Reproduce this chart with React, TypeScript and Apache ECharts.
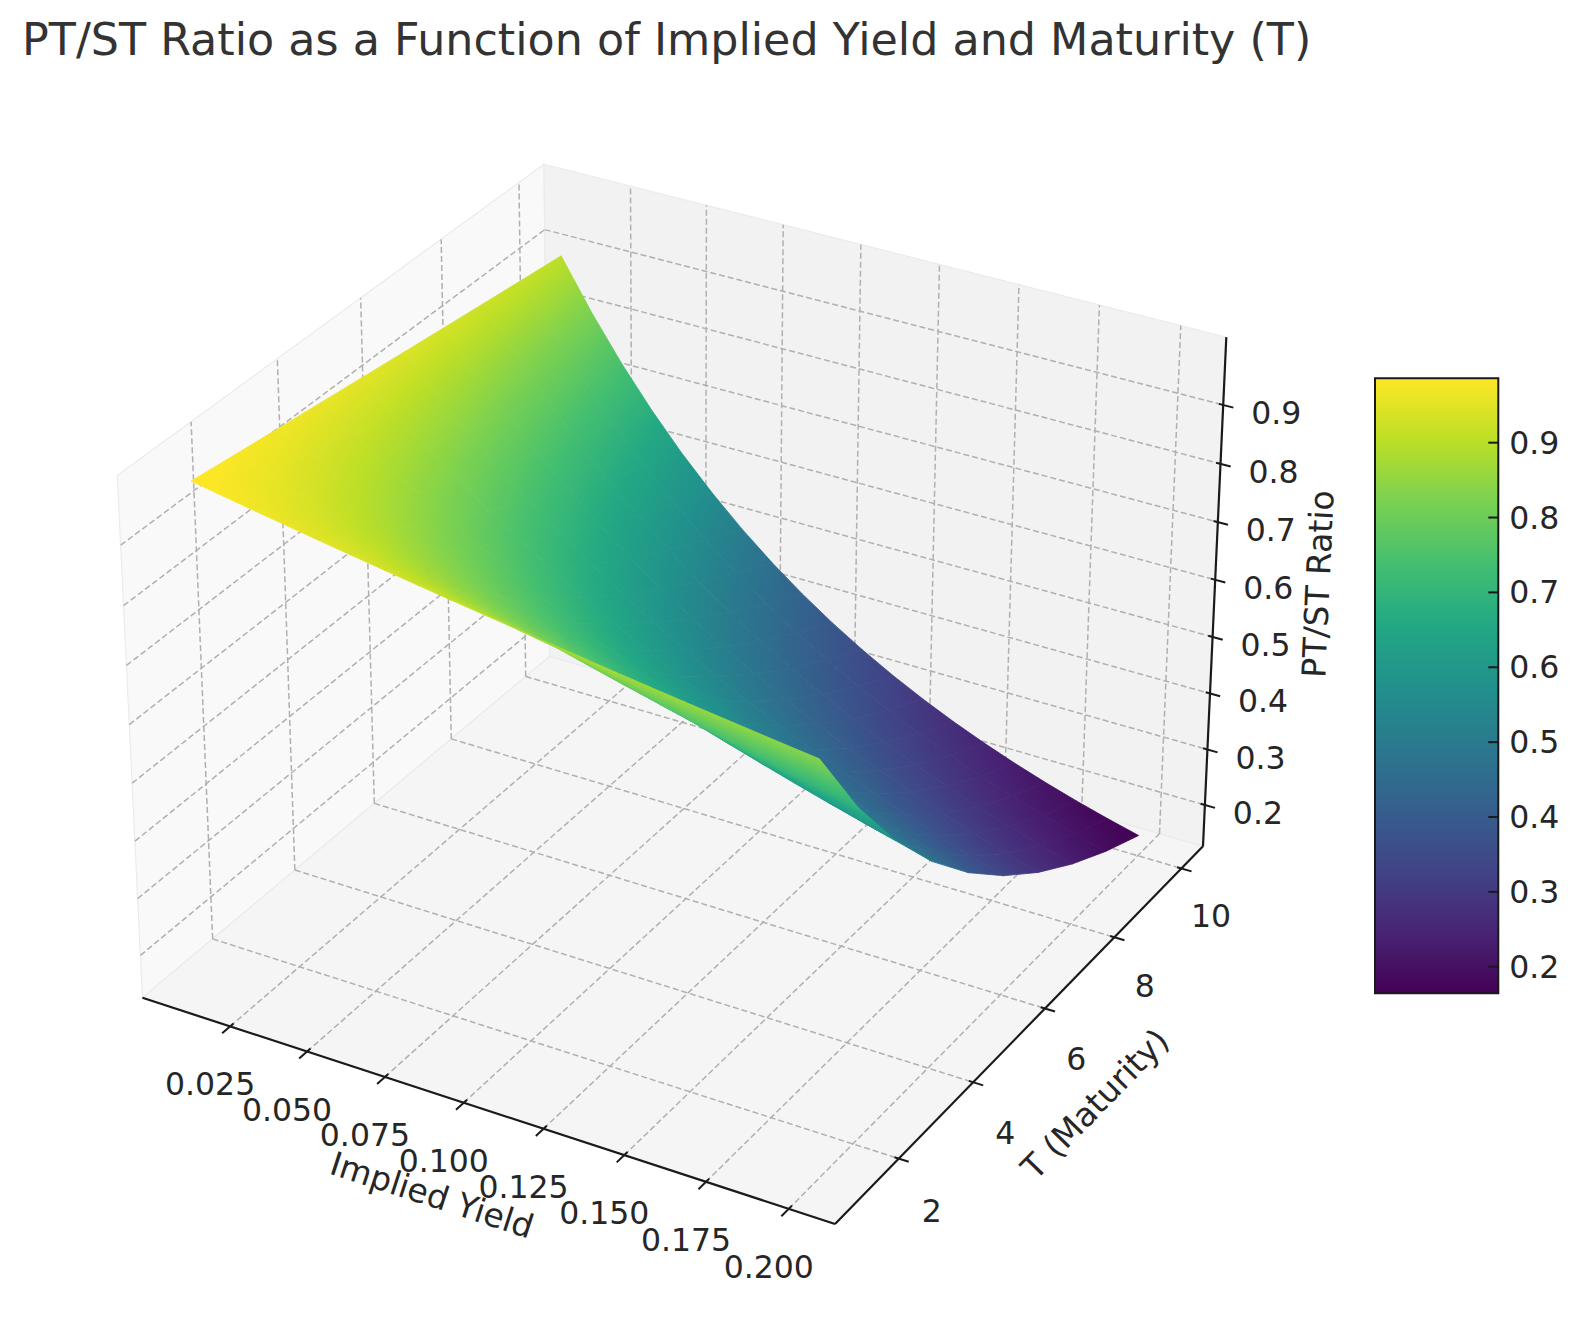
import React, { useEffect, useRef } from "react";
import * as echarts from "echarts";

// ---------------- data ----------------
const YIELDS = [0.01, 0.02, 0.03, 0.04, 0.05, 0.06, 0.07, 0.08, 0.09, 0.1, 0.11, 0.12, 0.13, 0.14, 0.15, 0.16, 0.17, 0.18, 0.19, 0.2];
const MATURITIES = [1, 2, 3, 4, 5, 6, 7, 8, 9, 10];

// PT/ST ratio for each maturity (row), across YIELDS (columns)
const RATIO_T1 = [0.9901, 0.9804, 0.9709, 0.9615, 0.9524, 0.9434, 0.9346, 0.9259, 0.9174, 0.9091, 0.9009, 0.8929, 0.885, 0.8772, 0.8696, 0.8621, 0.8547, 0.8475, 0.8403, 0.8333];
const RATIO_T2 = [0.9803, 0.9612, 0.9426, 0.9246, 0.907, 0.89, 0.8734, 0.8573, 0.8417, 0.8264, 0.8116, 0.7972, 0.7831, 0.7695, 0.7561, 0.7432, 0.7305, 0.7182, 0.7062, 0.6944];
const RATIO_T3 = [0.9706, 0.9423, 0.9151, 0.889, 0.8638, 0.8396, 0.8163, 0.7938, 0.7722, 0.7513, 0.7312, 0.7118, 0.6931, 0.675, 0.6575, 0.6407, 0.6244, 0.6086, 0.5934, 0.5787];
const RATIO_T4 = [0.961, 0.9238, 0.8885, 0.8548, 0.8227, 0.7921, 0.7629, 0.735, 0.7084, 0.683, 0.6587, 0.6355, 0.6133, 0.5921, 0.5718, 0.5523, 0.5337, 0.5158, 0.4987, 0.4823];
const RATIO_T5 = [0.9515, 0.9057, 0.8626, 0.8219, 0.7835, 0.7473, 0.713, 0.6806, 0.6499, 0.6209, 0.5935, 0.5674, 0.5428, 0.5194, 0.4972, 0.4761, 0.4561, 0.4371, 0.419, 0.4019];
const RATIO_T6 = [0.942, 0.888, 0.8375, 0.7903, 0.7462, 0.705, 0.6663, 0.6302, 0.5963, 0.5645, 0.5346, 0.5066, 0.4803, 0.4556, 0.4323, 0.4104, 0.3898, 0.3704, 0.3521, 0.3349];
const RATIO_T7 = [0.9327, 0.8706, 0.8131, 0.7599, 0.7107, 0.6651, 0.6227, 0.5835, 0.547, 0.5132, 0.4817, 0.4523, 0.4251, 0.3996, 0.3759, 0.3538, 0.3332, 0.3139, 0.2959, 0.2791];
const RATIO_T8 = [0.9235, 0.8535, 0.7894, 0.7307, 0.6768, 0.6274, 0.582, 0.5403, 0.5019, 0.4665, 0.4339, 0.4039, 0.3762, 0.3506, 0.3269, 0.305, 0.2848, 0.266, 0.2487, 0.2326];
const RATIO_T9 = [0.9143, 0.8368, 0.7664, 0.7026, 0.6446, 0.5919, 0.5439, 0.5002, 0.4604, 0.4241, 0.3909, 0.3606, 0.3329, 0.3075, 0.2843, 0.263, 0.2434, 0.2255, 0.209, 0.1938];
const RATIO_T10 = [0.9053, 0.8203, 0.7441, 0.6756, 0.6139, 0.5584, 0.5083, 0.4632, 0.4224, 0.3855, 0.3522, 0.322, 0.2946, 0.2697, 0.2472, 0.2267, 0.208, 0.1911, 0.1756, 0.1615];
const RATIO_ROWS = [RATIO_T1, RATIO_T2, RATIO_T3, RATIO_T4, RATIO_T5, RATIO_T6, RATIO_T7, RATIO_T8, RATIO_T9, RATIO_T10];

const YIELD_TICKS = [0.025, 0.05, 0.075, 0.1, 0.125, 0.15, 0.175, 0.2];
const YIELD_TICK_LABELS = ["0.025", "0.050", "0.075", "0.100", "0.125", "0.150", "0.175", "0.200"];
const MATURITY_TICKS = [2, 4, 6, 8, 10];
const RATIO_TICKS = [0.2, 0.3, 0.4, 0.5, 0.6, 0.7, 0.8, 0.9];
const COLOR_RANGE = [0.1645, 0.986];

const TITLE = "PT/ST Ratio as a Function of Implied Yield and Maturity (T)";
const X_NAME = "Implied Yield";
const T_NAME = "T (Maturity)";
const Z_NAME = "PT/ST Ratio";

const VIRIDIS = ["#440154", "#482475", "#414487", "#355f8d", "#2a788e", "#21918c", "#22a884", "#44bf70", "#7ad151", "#bddf26", "#fde725"];

// ---------------- 3D view (matplotlib-like) ----------------
const X_LIM = [0.0005, 0.2095];
const T_LIM = [0.55, 10.45];
const Z_LIM = [0.1426, 0.9962];
const ELEV = 30;
const AZIM = -60;
const DIST = 10;
const CX = 682.5;
const CY = 668.6;
const SC = 6665;
const FONT = "DejaVu Sans";
const INK = "#262626";

const K = 1.8294640721620434 / Math.sqrt(41);
const PB = [4 * K, 4 * K, 3 * K];
const er = (ELEV * Math.PI) / 180;
const ar = (AZIM * Math.PI) / 180;
const W = [Math.cos(er) * Math.cos(ar), Math.cos(er) * Math.sin(ar), Math.sin(er)];
const uLen = Math.hypot(W[1], W[0]);
const U = [-W[1] / uLen, W[0] / uLen, 0];
const V = [W[1] * U[2] - W[2] * U[1], W[2] * U[0] - W[0] * U[2], W[0] * U[1] - W[1] * U[0]];

const pad = (l: number[]) => [l[0] - (l[1] - l[0]) / 48, l[1] + (l[1] - l[0]) / 48];
const XB = pad(X_LIM);
const TB = pad(T_LIM);
const ZB = pad(Z_LIM);

function project(x: number, t: number, z: number) {
  const q = [
    ((x - X_LIM[0]) / (X_LIM[1] - X_LIM[0])) * PB[0] - PB[0] / 2,
    ((t - T_LIM[0]) / (T_LIM[1] - T_LIM[0])) * PB[1] - PB[1] / 2,
    ((z - Z_LIM[0]) / (Z_LIM[1] - Z_LIM[0])) * PB[2] - PB[2] / 2,
  ];
  const a = U[0] * q[0] + U[1] * q[1] + U[2] * q[2];
  const b = V[0] * q[0] + V[1] * q[1] + V[2] * q[2];
  const c = W[0] * q[0] + W[1] * q[1] + W[2] * q[2];
  const den = DIST - c;
  return [CX + (SC * a) / den, CY - (SC * b) / den, den];
}

// ---------------- colours ----------------
const VIR_RGB = VIRIDIS.map((h) => [parseInt(h.slice(1, 3), 16), parseInt(h.slice(3, 5), 16), parseInt(h.slice(5, 7), 16)]);
function viridis(t: number) {
  const tt = Math.max(0, Math.min(1, t));
  const f = tt * (VIR_RGB.length - 1);
  const i = Math.min(VIR_RGB.length - 2, Math.floor(f));
  const r = f - i;
  const a = VIR_RGB[i];
  const b = VIR_RGB[i + 1];
  const c = [0, 1, 2].map((k) => Math.round(a[k] + (b[k] - a[k]) * r));
  return `rgb(${c[0]},${c[1]},${c[2]})`;
}
const colorOf = (z: number) => viridis((z - COLOR_RANGE[0]) / (COLOR_RANGE[1] - COLOR_RANGE[0]));

// ---------------- surface quads ----------------
function buildQuads() {
  const quads: any[] = [];
  for (let i = 0; i < MATURITIES.length - 1; i++) {
    for (let j = 0; j < YIELDS.length - 1; j++) {
      const corners = [
        [j, i],
        [j + 1, i],
        [j + 1, i + 1],
        [j, i + 1],
      ];
      const vals = corners.map(([jj, ii]) => RATIO_ROWS[ii][jj]);
      const proj = corners.map(([jj, ii], k) => project(YIELDS[jj], MATURITIES[ii], vals[k]));
      const pts = proj.map((p) => [p[0], p[1]]);
      const depth = proj.reduce((s, p) => s + p[2], 0) / 4;
      const mX = pts.reduce((s, p) => s + p[0], 0) / 4;
      const mY = pts.reduce((s, p) => s + p[1], 0) / 4;
      const mc = vals.reduce((s, v) => s + v, 0) / 4;
      let sxx = 0, sxy = 0, syy = 0, sxc = 0, syc = 0;
      for (let k = 0; k < 4; k++) {
        const dx = pts[k][0] - mX, dy = pts[k][1] - mY, dc = vals[k] - mc;
        sxx += dx * dx; sxy += dx * dy; syy += dy * dy; sxc += dx * dc; syc += dy * dc;
      }
      const det = sxx * syy - sxy * sxy;
      const cmin = Math.min(...vals);
      const cmax = Math.max(...vals);
      let fill: any = colorOf(mc);
      if (Math.abs(det) > 1e-6 && cmax - cmin > 1e-6) {
        const gb = (sxc * syy - syc * sxy) / det;
        const gd = (syc * sxx - sxc * sxy) / det;
        const g2 = gb * gb + gd * gd;
        if (g2 > 1e-14) {
          const sx = mX + (gb * (cmin - mc)) / g2;
          const sy = mY + (gd * (cmin - mc)) / g2;
          const ex = mX + (gb * (cmax - mc)) / g2;
          const ey = mY + (gd * (cmax - mc)) / g2;
          const stops = [0, 0.25, 0.5, 0.75, 1].map((o) => ({ offset: o, color: colorOf(cmin + (cmax - cmin) * o) }));
          fill = { type: "linear", x: sx, y: sy, x2: ex, y2: ey, global: true, colorStops: stops };
        }
      }
      quads.push({ i, j, pts, depth, fill });
    }
  }
  quads.sort((a, b) => b.depth - a.depth);
  return quads;
}

// ---------------- frame, grid, ticks, labels ----------------
function buildFrame() {
  const els: any[] = [];
  const [x0, x1] = XB;
  const [t0, t1] = TB;
  const [z0, z1] = ZB;
  const P = (x: number, t: number, z: number) => {
    const p = project(x, t, z);
    return [p[0], p[1]];
  };
  const poly = (pts: number[][], fill: string) => ({
    type: "polygon", z: 0, silent: true, shape: { points: pts },
    style: { fill, stroke: "#ebebeb", lineWidth: 1.2 },
  });
  els.push(poly([P(x0, t0, z0), P(x0, t1, z0), P(x0, t1, z1), P(x0, t0, z1)], "#f9f9f9"));
  els.push(poly([P(x0, t1, z0), P(x1, t1, z0), P(x1, t1, z1), P(x0, t1, z1)], "#f2f2f2"));
  els.push(poly([P(x0, t0, z0), P(x1, t0, z0), P(x1, t1, z0), P(x0, t1, z0)], "#f5f5f5"));

  const seg = (a: number[], b: number[], style: any, z: number) => ({
    type: "line", z, silent: true, shape: { x1: a[0], y1: a[1], x2: b[0], y2: b[1] }, style,
  });
  const gridStyle = { stroke: "#b0b0b0", lineWidth: 1.5, lineDash: [6, 3] };
  YIELD_TICKS.forEach((x) => {
    els.push(seg(P(x, t0, z0), P(x, t1, z0), gridStyle, 1));
    els.push(seg(P(x, t1, z0), P(x, t1, z1), gridStyle, 1));
  });
  MATURITY_TICKS.forEach((t) => {
    els.push(seg(P(x0, t, z0), P(x1, t, z0), gridStyle, 1));
    els.push(seg(P(x0, t, z0), P(x0, t, z1), gridStyle, 1));
  });
  RATIO_TICKS.forEach((z) => {
    els.push(seg(P(x0, t0, z), P(x0, t1, z), gridStyle, 1));
    els.push(seg(P(x0, t1, z), P(x1, t1, z), gridStyle, 1));
  });

  const axisStyle = { stroke: "#1a1a1a", lineWidth: 2.2 };
  els.push(seg(P(x0, t0, z0), P(x1, t0, z0), axisStyle, 5));
  els.push(seg(P(x1, t0, z0), P(x1, t1, z0), axisStyle, 5));
  els.push(seg(P(x1, t1, z0), P(x1, t1, z1), axisStyle, 5));

  const tickStyle = { stroke: "#1a1a1a", lineWidth: 2 };
  const tick = (p: number[], q: number[]) => {
    const dx = q[0] - p[0], dy = q[1] - p[1];
    const L = Math.hypot(dx, dy);
    const ux = dx / L, uy = dy / L;
    return seg([p[0] - ux * 4.5, p[1] - uy * 4.5], [p[0] + ux * 10.5, p[1] + uy * 10.5], tickStyle, 5);
  };
  const txt = (x: number, y: number, text: string, size: number, rot = 0, color = INK, align = "center") => ({
    type: "text", z: 6, silent: true, x, y, rotation: rot,
    style: {
      text, fontSize: size, fontFamily: FONT, fill: color,
      align, verticalAlign: "middle", textAlign: align, textVerticalAlign: "middle",
    },
  });

  YIELD_TICKS.forEach((x, k) => {
    const p = P(x, t0, z0);
    els.push(tick(p, P(x, t0 - 0.5, z0)));
    els.push(txt(p[0] - 20, p[1] + 58, YIELD_TICK_LABELS[k], 31.5));
  });
  MATURITY_TICKS.forEach((t) => {
    const p = P(x1, t, z0);
    els.push(tick(p, P(x1 + 0.01, t, z0)));
    els.push(txt(p[0] + 33 - (t - 2) * 0.42, p[1] + 52 - (t - 2) * 0.5, String(t), 31.5));
  });
  RATIO_TICKS.forEach((z) => {
    const p = P(x1, t1, z);
    els.push(tick(p, P(x1 + 0.01, t1, z)));
    els.push(txt(p[0] + 53, p[1] + 8, z.toFixed(1), 31.5));
  });

  const ax0 = P(x0, t0, z0), ax1 = P(x1, t0, z0);
  const ay1 = P(x1, t1, z0);
  const az1 = P(x1, t1, z1);
  const rotX = -Math.atan2(ax1[1] - ax0[1], ax1[0] - ax0[0]);
  const rotT = -Math.atan2(ay1[1] - ax1[1], ay1[0] - ax1[0]);
  const rotZ = -Math.atan2(az1[1] - ay1[1], az1[0] - ay1[0]);
  els.push(txt(432, 1195, X_NAME, 33, rotX));
  els.push(txt(1095, 1104, T_NAME, 33, rotT));
  els.push(txt(1318, 584, Z_NAME, 33, rotZ));

  els.push({
    type: "text", z: 6, silent: true, x: 22, y: 39.8,
    style: { text: TITLE, fontSize: 44.4, fontFamily: FONT, fill: "#333333", align: "left", verticalAlign: "middle", textAlign: "left", textVerticalAlign: "middle" },
  });
  return els;
}

export default function App() {
  const ref = useRef<HTMLDivElement>(null);
  useEffect(() => {
    if (!ref.current) return;
    document.body.style.margin = "0";
    const chart = echarts.init(ref.current, undefined, { renderer: "svg" });
    const quads = buildQuads();
    const viridisStops = VIRIDIS.map((c, k) => ({ offset: k / (VIRIDIS.length - 1), color: c }));
    chart.setOption({
      animation: false,
      backgroundColor: "#ffffff",
      grid: [{ left: 1375, top: 378.3, width: 123.3, height: 615 }],
      xAxis: [{ type: "value", gridIndex: 0, min: 0, max: 1, show: false }],
      yAxis: [
        {
          type: "value", gridIndex: 0, position: "right", z: 5,
          min: COLOR_RANGE[0], max: COLOR_RANGE[1], splitNumber: 8,
          axisLine: { show: false },
          splitLine: { show: false },
          axisTick: { show: false },
          axisLabel: {
            margin: 11, fontSize: 31.5, fontFamily: FONT, color: INK,
            formatter: (v: number) => (Math.abs(v * 10 - Math.round(v * 10)) < 1e-6 ? v.toFixed(1) : ""),
          },
        },
      ],
      graphic: { elements: buildFrame() },
      series: [
        {
          type: "custom",
          coordinateSystem: "none",
          silent: true,
          z: 2,
          data: quads.map((q) => [q.j, q.i]),
          renderItem: (params: any) => {
            const q = quads[params.dataIndex];
            return {
              type: "polygon",
              shape: { points: q.pts },
              style: { fill: q.fill, stroke: q.fill, lineWidth: 0.8 },
            };
          },
        },
        {
          type: "custom",
          coordinateSystem: "cartesian2d",
          xAxisIndex: 0,
          yAxisIndex: 0,
          silent: true,
          z: 2,
          data: [[0, COLOR_RANGE[0]]],
          renderItem: (params: any, api: any) => {
            const p0 = api.coord([0, COLOR_RANGE[1]]);
            const p1 = api.coord([1, COLOR_RANGE[0]]);
            const children: any[] = [
              {
                type: "rect",
                shape: { x: p0[0], y: p0[1], width: p1[0] - p0[0], height: p1[1] - p0[1] },
                style: {
                  fill: { type: "linear", x: 0, y: 1, x2: 0, y2: 0, colorStops: viridisStops },
                  stroke: "#1a1a1a",
                  lineWidth: 2,
                },
              },
            ];
            RATIO_TICKS.forEach((v) => {
              const p = api.coord([1, v]);
              children.push({
                type: "line",
                shape: { x1: p[0] - 10, y1: p[1], x2: p[0], y2: p[1] },
                style: { stroke: "#1a1a1a", lineWidth: 2 },
              });
            });
            return { type: "group", children };
          },
        },
      ],
    });
    return () => chart.dispose();
  }, []);
  return <div ref={ref} style={{ position: "absolute", left: 0, top: 0, width: 1581, height: 1322 }} />;
}
